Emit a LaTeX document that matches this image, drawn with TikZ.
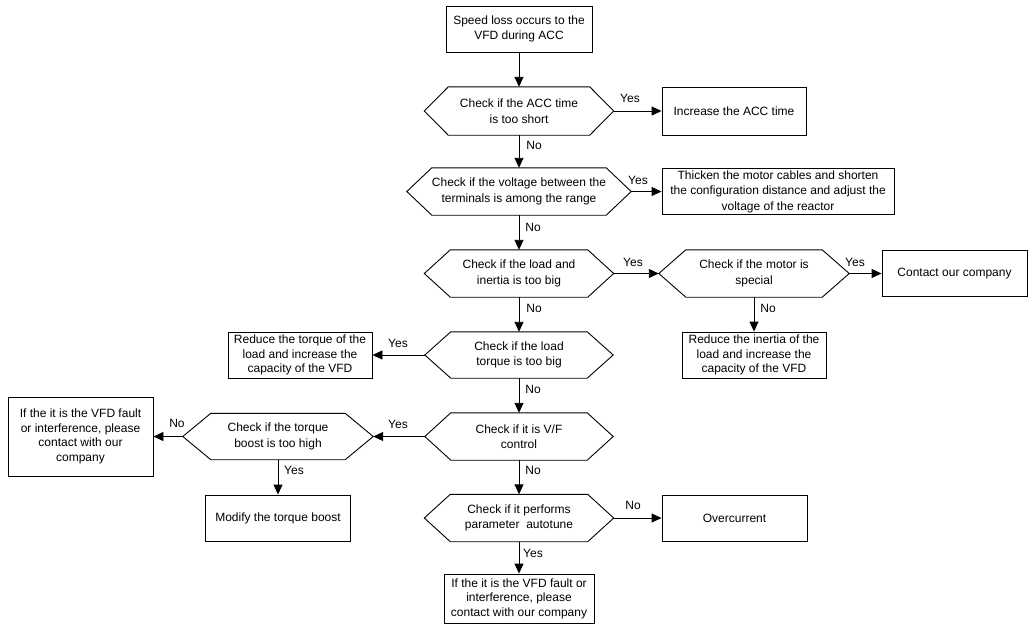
\documentclass[tikz,border=0pt]{standalone}
\usepackage{fontspec}
\setmainfont{Liberation Sans}
\usetikzlibrary{arrows.meta}
\newcommand\hexdraw[2]{\draw[hexline] (#1.west) -- ([xshift=#2pt]#1.north west) -- ([xshift=-#2pt]#1.north east) -- (#1.east) -- ([xshift=-#2pt]#1.south east) -- ([xshift=#2pt]#1.south west) -- cycle;}
\begin{document}
\begin{tikzpicture}[x=1pt,y=-1pt,
  every node/.style={font=\fontsize{12}{14.5}\selectfont, text=black},
  box/.style 2 args={draw, line width=0.9pt, align=center, inner sep=0pt, minimum width=#1, minimum height=#2},
  hexn/.style 2 args={align=center, inner sep=0pt, minimum width=#1, minimum height=#2, font=\fontsize{12}{15.5}\selectfont},
  hexline/.style={line width=0.9pt},
  arr/.style={line width=0.9pt, -{Triangle[length=10pt,width=9pt]}},
  lbl/.style={inner sep=0pt}]
\useasboundingbox (0,0) rectangle (1036,629);
% nodes
\node[box={146pt}{46pt}] (start) at (519,29) {Speed loss occurs to the\\VFD during ACC};
\node[hexn={189pt}{48pt}] (h1) at (519,111) {Check if the ACC time\\is too short};
\node[box={144pt}{48pt}] (inc) at (734,111) {Increase the ACC time};
\node[hexn={224pt}{47pt}] (h2) at (519,191.5) {Check if the voltage between the\\terminals is among the range};
\node[box={232pt}{46pt}, font=\fontsize{12}{15.5}\selectfont] (thick) at (778,191.5) {Thicken the motor cables and shorten\\the configuration distance and adjust the\\voltage of the reactor};
\node[hexn={189pt}{47pt}] (h3) at (519,273.5) {Check if the load and\\inertia is too big};
\node[hexn={190pt}{47pt}] (h4) at (754,273.5) {Check if the motor is\\special};
\node[box={145pt}{46pt}] (contact) at (954.5,273.5) {Contact our company};
\node[box={144pt}{46pt}] (inertia) at (754,355) {Reduce the inertia of the\\load and increase the\\capacity of the VFD};
\node[hexn={188pt}{46pt}] (h5) at (519,355) {Check if the load\\torque is too big};
\node[box={144pt}{46pt}] (torque) at (300,355) {Reduce the torque of the\\load and increase the\\capacity of the VFD};
\node[hexn={188pt}{47pt}] (h6) at (519,436.5) {Check if it is V/F\\control};
\node[hexn={190pt}{46pt}] (h7) at (278,436.5) {Check if the torque\\boost is too high};
\node[box={145pt}{79pt}] (left) at (80.5,436.5) {If the it is the VFD fault\\or interference, please\\contact with our\\company};
\node[box={145pt}{46pt}] (modify) at (278,518) {Modify the torque boost};
\node[hexn={189pt}{47pt}] (h8) at (519,518) {Check if it performs\\parameter\ \ autotune};
\node[box={145pt}{46pt}] (over) at (734.5,518) {Overcurrent};
\node[box={150pt}{49pt}] (final) at (519,598.5) {If the it is the VFD fault or\\interference, please\\contact with our company};
% hexagon outlines
\hexdraw{h1}{24}
\hexdraw{h2}{25}
\hexdraw{h3}{26}
\hexdraw{h4}{27}
\hexdraw{h5}{26}
\hexdraw{h6}{26}
\hexdraw{h7}{28}
\hexdraw{h8}{26}
% connectors
\draw[arr] (start) -- (h1);
\draw[arr] (h1) -- (inc);
\draw[arr] (h1) -- (h2);
\draw[arr] (h2) -- (thick);
\draw[arr] (h2) -- (h3);
\draw[arr] (h3) -- (h4);
\draw[arr] (h4) -- (contact);
\draw[arr] (h4) -- (inertia);
\draw[arr] (h3) -- (h5);
\draw[arr] (h5) -- (torque);
\draw[arr] (h5) -- (h6);
\draw[arr] (h6) -- (h7);
\draw[arr] (h7) -- (left);
\draw[arr] (h7) -- (modify);
\draw[arr] (h6) -- (h8);
\draw[arr] (h8) -- (over);
\draw[arr] (h8) -- (final);
% labels
\node[lbl] (y1) at (630,98) {Yes};
\node[lbl] (n1) at (534,145) {No};
\node[lbl] (y2) at (638,180) {Yes};
\node[lbl] (n2) at (533,227) {No};
\node[lbl] (y3) at (633,262) {Yes};
\node[lbl] (y4) at (855,262) {Yes};
\node[lbl] (n4) at (768,308) {No};
\node[lbl] (n3) at (534,308) {No};
\node[lbl] (y5) at (398,343) {Yes};
\node[lbl] (n5) at (533,389) {No};
\node[lbl] (y6) at (398,424) {Yes};
\node[lbl] (n7) at (177,423) {No};
\node[lbl] (y7) at (294,470) {Yes};
\node[lbl] (n6) at (533,470) {No};
\node[lbl] (n8) at (633,505) {No};
\node[lbl] (y8) at (533,553) {Yes};
\end{tikzpicture}
\end{document}
